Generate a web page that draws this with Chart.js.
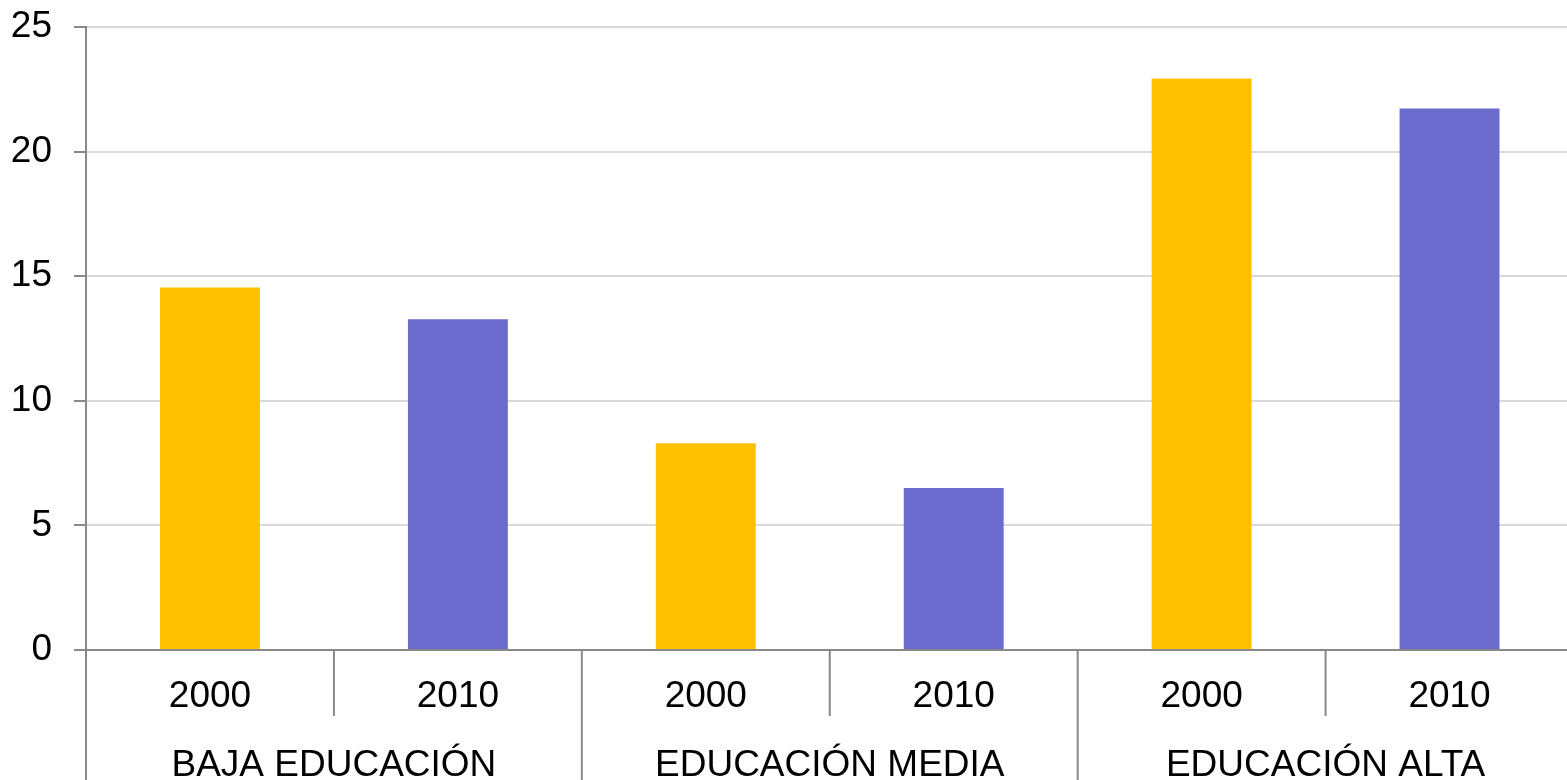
<!DOCTYPE html>
<html>
<head>
<meta charset="utf-8">
<script src="https://cdn.jsdelivr.net/npm/chart.js@4/dist/chart.umd.min.js"></script>
<style>
html,body{margin:0;padding:0;background:#fff;overflow:hidden;}
#wrap{width:1575px;height:780px;}
</style>
</head>
<body>
<div id="wrap"><canvas id="c" width="1575" height="780"></canvas></div>
<script>
const categories = ['2000', '2010', '2000', '2010', '2000', '2010'];
const groups = ['BAJA EDUCACIÓN', 'EDUCACIÓN MEDIA', 'EDUCACIÓN ALTA'];
const values = [14.55, 13.27, 8.3, 6.5, 22.93, 21.73];
const yTicks = [0, 5, 10, 15, 20, 25];
const yearColors = {'2000': '#FFC000', '2010': '#6B6BCE'};

const FONT = '"Liberation Sans", Arial, sans-serif';
const FSIZE = 37;
const AXIS = '#898989';

const groupAxisPlugin = {
  id: 'groupAxis',
  afterDraw(chart) {
    const ctx = chart.ctx;
    const x = chart.scales.x;
    const bottom = chart.chartArea.bottom;
    const step = x.getPixelForValue(1) - x.getPixelForValue(0);
    ctx.save();
    ctx.strokeStyle = AXIS;
    ctx.lineWidth = 2;
    for (let i = 0; i <= categories.length; i++) {
      const px = x.getPixelForValue(i) - step / 2;
      const isGroup = i % 2 === 0;
      ctx.beginPath();
      ctx.moveTo(px, bottom);
      ctx.lineTo(px, isGroup ? chart.height : bottom + 66);
      ctx.stroke();
    }
    ctx.fillStyle = '#000';
    ctx.font = FSIZE + 'px ' + FONT;
    ctx.textAlign = 'center';
    ctx.textBaseline = 'alphabetic';
    groups.forEach((g, gi) => {
      const cx = (x.getPixelForValue(gi * 2) + x.getPixelForValue(gi * 2 + 1)) / 2;
      ctx.fillText(g, cx, 776);
    });
    ctx.restore();
  }
};

new Chart(document.getElementById('c'), {
  type: 'bar',
  data: {
    labels: categories,
    datasets: [{
      data: values,
      backgroundColor: categories.map(c => yearColors[c]),
      borderWidth: 0,
      categoryPercentage: 1,
      barPercentage: 0.403
    }]
  },
  options: {
    responsive: false,
    animation: false,
    devicePixelRatio: 1,
    layout: {padding: {top: 27, right: 1.5, left: 0, bottom: 0}},
    plugins: {legend: {display: false}, tooltip: {enabled: false}},
    scales: {
      x: {
        grid: {display: false, drawTicks: false},
        border: {display: true, color: AXIS, width: 2},
        ticks: {color: '#000', font: {family: FONT, size: FSIZE}, padding: 25, maxRotation: 0},
        afterFit(s) { s.height = 130; s.paddingLeft = 0; s.paddingRight = 0; }
      },
      y: {
        min: 0, max: 25,
        afterBuildTicks(s) { s.ticks = yTicks.map(v => ({value: v})); },
        grid: {color: '#D9D9D9', lineWidth: 2, tickLength: 12, tickColor: AXIS, tickWidth: 2},
        border: {display: true, color: AXIS, width: 2},
        ticks: {color: '#000', font: {family: FONT, size: FSIZE}, padding: 22},
        afterFit(s) { s.width = 86; s.paddingTop = 0; s.paddingBottom = 0; }
      }
    }
  },
  plugins: [groupAxisPlugin]
});
</script>
</body>
</html>
